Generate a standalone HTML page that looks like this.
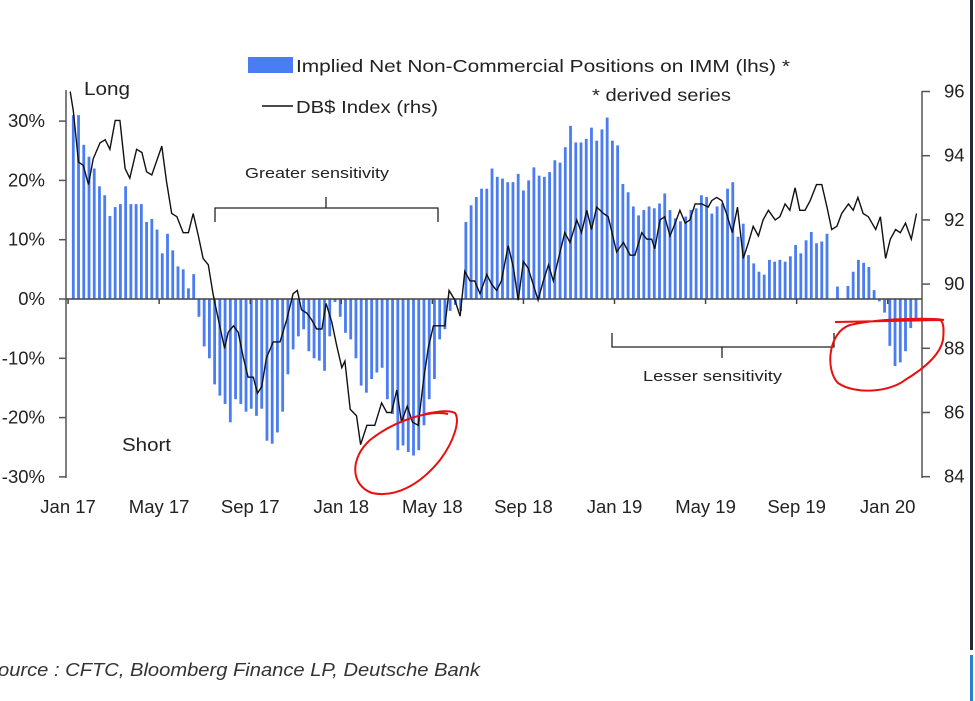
<!DOCTYPE html>
<html><head><meta charset="utf-8"><style>
html,body{margin:0;padding:0;background:#fff;}
svg{display:block;font-family:"Liberation Sans",Arial,sans-serif;}
</style></head><body>
<svg id="chart" width="975" height="701" viewBox="0 0 975 701">
<rect x="970" y="0" width="3" height="650" fill="#1f2a3a"/>
<rect x="970" y="655" width="3" height="46" fill="#2a7fd0"/>
<g id="bars"></g>
<g id="axes"></g>
<path id="dbline" fill="none" stroke="#111" stroke-width="1.4"/>
<g>
<rect x="248" y="57" width="45" height="16" fill="#4a7cf3"/>
<text x="296" y="72" font-size="17.5" fill="#222" textLength="494" lengthAdjust="spacingAndGlyphs">Implied Net Non-Commercial Positions on IMM (lhs) *</text>
<line x1="262" y1="106" x2="293" y2="106" stroke="#111" stroke-width="1.4"/>
<text x="296" y="113" font-size="17.5" fill="#222" textLength="142" lengthAdjust="spacingAndGlyphs">DB$ Index (rhs)</text>
<text x="592" y="101" font-size="17.5" fill="#222" textLength="139" lengthAdjust="spacingAndGlyphs">* derived series</text>
</g>
<text x="84" y="95" font-size="18" fill="#222" textLength="46" lengthAdjust="spacingAndGlyphs">Long</text>
<text x="122" y="451" font-size="18" fill="#222" textLength="49" lengthAdjust="spacingAndGlyphs">Short</text>
<text x="245" y="178" font-size="15" fill="#222" textLength="144" lengthAdjust="spacingAndGlyphs">Greater sensitivity</text>
<path d="M215,222 V208 H326 V197 M326,208 H438 V222" fill="none" stroke="#222" stroke-width="1.3"/>
<text x="643" y="381" font-size="15" fill="#222" textLength="139" lengthAdjust="spacingAndGlyphs">Lesser sensitivity</text>
<path d="M612,333 V347 H722 V358 M722,347 H834 V333" fill="none" stroke="#222" stroke-width="1.3"/>
<path d="M448,414 C430,410 395,420 370,440 C350,458 350,485 372,493 C395,498 420,485 440,460 C455,440 460,420 455,413 C450,410 440,411 425,414" fill="none" stroke="#e81010" stroke-width="2"/>
<path d="M944,320 C930,318 880,318 850,325 C828,332 825,370 838,383 C855,395 890,392 905,380 C925,368 940,355 943,340 C944,330 944,322 940,320 L835,322" fill="none" stroke="#e81010" stroke-width="2"/>
<text x="-2" y="676" font-size="18" font-style="italic" fill="#333" textLength="482" lengthAdjust="spacingAndGlyphs">ource : CFTC, Bloomberg Finance LP, Deutsche Bank</text>
</svg>
<script>
const barValues=[31,31,26,24,22,19,17.5,14,15.5,16,19,16,16,16,13,13.5,11.7,7.7,11,8.2,5.5,5,1.8,4.2,
-3,-8,-10,-14.4,-16.3,-17.7,-20.8,-16.9,-17.7,-19,-18.5,-19.7,-18.5,-23.9,-24.4,-22.5,-19,-12.7,-8.5,-6.3,-5.1,-8.8,-10,-10.4,-12.1,-6.3,-0.5,-3,-5.7,-6.8,-10,
-14.6,-15.8,-13.5,-12.4,-11.6,-16.9,-19.4,-25.5,-24.7,-25.8,-26.4,-25.5,-21.3,-16.9,-13.5,-6.8,-5.1,-2,-1,-2,13,15.8,17.2,18.6,18.6,22,20.6,20.3,19.7,19.7,21.1,18.3,20,22.2,20.8,20.6,21.4,23.4,23,25.6,29.2,26.4,26.4,27,28.9,26.7,28.6,30.6,26.7,25.9,19.4,18,
15.6,14.1,15,15.6,15.3,16.1,17.8,15,13.6,13.1,13.9,15,15.3,17.5,17.2,14.4,15.6,16.1,18.6,19.7,10.5,12.7,7.4,6,4.6,4.1,6.6,6.3,6.6,6.3,7.2,9.1,7.7,9.9,11.3,9.4,9.7,11,0,2.1,0,2.2,4.6,6.6,6.1,5.4,1.5,-0.4,-2.3,-7.9,-11.3,-10.7,-8.8,-4.9,-3.5];
const lineWeeks=[-0.6,0,1.0,1.9,2.9,3.8,5.1,6.1,7.0,8.0,8.9,9.9,10.8,12.1,13.1,14.0,15.0,16.9,17.8,18.8,19.8,21.0,22.0,22.9,23.9,24.8,25.8,26.7,27.7,28.9,29.6,30.6,31.5,32.5,33.4,34.4,35.2,36.0,36.9,38.2,39.5,40.8,42.0,42.8,43.6,44.6,45.5,46.5,47.5,48.3,49.4,50.3,51.3,51.9,52.9,54.1,54.9,56.1,57.6,58.9,59.9,60.8,61.8,62.7,63.8,64.8,65.9,66.9,67.8,68.8,70.1,71.0,71.8,72.9,73.9,74.8,75.8,76.7,77.7,79.0,79.9,80.9,81.8,83.1,84.1,85.0,86.0,86.9,88.8,89.8,90.8,91.7,92.7,93.9,94.9,96.2,97.1,98.1,99.0,100.0,101.3,102.2,103.8,105.1,106.4,107.3,108.6,109.6,110.5,111.1,112.1,113.0,114.0,115.0,115.9,116.9,117.8,118.8,120.1,121.3,122.0,122.9,123.9,124.8,125.9,126.9,128.0,129.0,129.9,130.9,131.8,132.8,134.1,135.0,136.0,136.9,137.9,138.8,139.8,140.8,142.0,143.0,144.0,144.9,145.9,146.8,148.1,149.0,149.9,150.9,151.9,153.3,154.2,155.2,156.1,157.1,158.0,159.0,160.1,161.1];
const lineValues=[96.0,95.4,93.8,93.7,93.1,93.9,94.4,94.5,94.2,95.1,95.1,93.6,93.3,94.2,94.1,93.5,93.4,94.3,93.2,92.2,92.1,91.6,91.6,92.2,91.5,90.8,90.6,89.7,88.9,88.0,88.5,88.7,88.5,87.7,87.1,87.1,86.6,86.8,87.7,88.2,88.2,88.9,89.7,89.8,89.2,89.1,88.9,88.6,88.6,89.4,88.8,88.1,87.4,87.6,86.1,85.9,85.0,85.6,85.6,86.3,86.0,86.0,86.7,85.7,86.2,85.7,85.6,87.0,88.0,88.7,88.7,88.7,89.8,89.5,89.0,90.4,90.1,90.1,89.7,90.3,90.0,89.8,90.1,91.2,90.5,89.5,90.7,90.5,89.5,90.1,90.6,90.1,90.8,91.6,91.3,92.0,91.6,92.3,91.7,92.4,92.2,92.1,91.0,91.3,90.9,90.9,91.6,91.4,91.4,91.1,92.0,92.1,91.5,91.9,92.3,91.9,92.0,92.5,92.5,92.4,92.6,92.7,92.6,92.2,91.6,92.4,90.8,91.3,91.8,91.5,92.0,92.3,92.0,92.1,92.5,92.3,93.0,92.3,92.3,92.6,93.1,93.1,92.4,91.7,91.8,92.2,92.5,92.3,92.7,92.2,92.1,91.7,92.1,90.8,91.4,91.7,91.6,91.9,91.4,92.2];
const leftTicks=[30,20,10,0,-10,-20,-30];
const leftTickLabels=["30%","20%","10%","0%","-10%","-20%","-30%"];
const rightTicks=[96,94,92,90,88,86,84];
const xTickLabels=["Jan 17","May 17","Sep 17","Jan 18","May 18","Sep 18","Jan 19","May 19","Sep 19","Jan 20"];
const xTickWeeks=[-1,16.4,33.8,51.2,68.6,86,103.4,120.8,138.2,155.6];

const NS="http://www.w3.org/2000/svg";
const xW=w=>73.3+w*5.234;
const yL=v=>299-v*5.93;
const yR=v=>91.5+(96-v)*32.1;
function mk(tag,attrs,parent){const e=document.createElementNS(NS,tag);for(const k in attrs)e.setAttribute(k,attrs[k]);parent.appendChild(e);return e;}
const bars=document.getElementById('bars'),axes=document.getElementById('axes');
barValues.forEach((v,i)=>{
  const y0=yL(0),y1=yL(v);
  const r=mk('rect',{x:xW(i)-1.4,y:Math.min(y0,y1),width:2.8,height:Math.abs(y1-y0),fill:'#4a7cf3'},bars);
  
  
});
let a=mk('line',{x1:66,y1:90,x2:66,y2:478,stroke:'#555','stroke-width':1.5},axes);


a=mk('line',{x1:922,y1:91,x2:922,y2:478,stroke:'#555','stroke-width':1.5},axes);


a=mk('line',{x1:66,y1:yL(0),x2:922,y2:yL(0),stroke:'#444','stroke-width':1.5},axes);


leftTicks.forEach((t,i)=>{
  const y=yL(t);
  const tk=mk('line',{x1:59,y1:y,x2:66,y2:y,stroke:'#555','stroke-width':1.5},axes);
  
  
  const tx=mk('text',{x:45,y:y+6,'font-size':18.5,'text-anchor':'end',fill:'#222'},axes);
  tx.textContent=leftTickLabels[i];
  
  
});
rightTicks.forEach(t=>{
  const y=yR(t);
  const tk=mk('line',{x1:922,y1:y,x2:930,y2:y,stroke:'#555','stroke-width':1.5},axes);
  
  
  const tx=mk('text',{x:944,y:y+6,'font-size':18.5,fill:'#222'},axes);
  tx.textContent=String(t);
  
  
});
xTickLabels.forEach((l,i)=>{
  const x=xW(xTickWeeks[i]);
  const tk=mk('line',{x1:x,y1:yL(0),x2:x,y2:yL(0)+5,stroke:'#444','stroke-width':1.5},axes);
  
  
  const tx=mk('text',{x:x,y:513,'font-size':18.5,'text-anchor':'middle',fill:'#222'},axes);
  tx.textContent=l;
  
  
});
document.getElementById('dbline').setAttribute('d',lineWeeks.map((w,i)=>(i?'L':'M')+xW(w).toFixed(1)+','+yR(lineValues[i]).toFixed(1)).join(''));
</script>
</body></html>
